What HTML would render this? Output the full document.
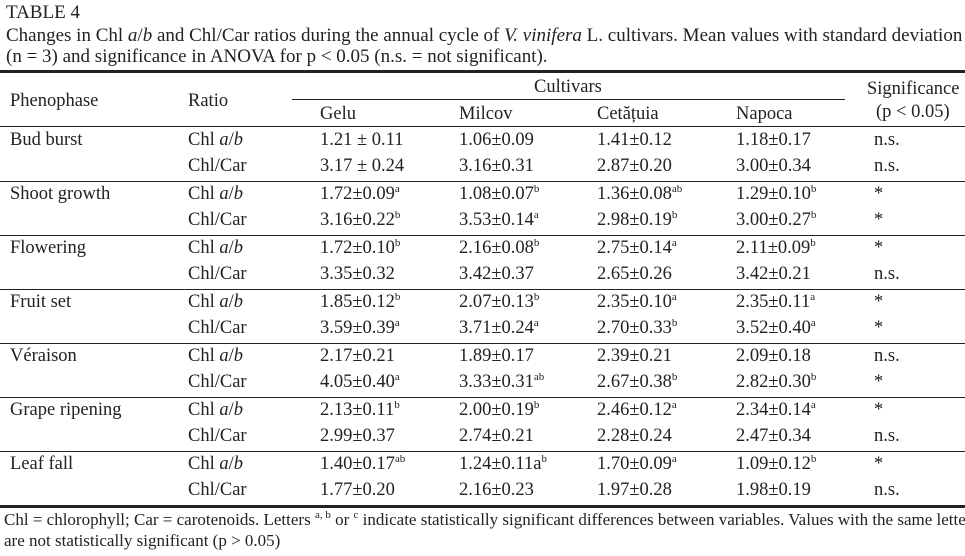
<!DOCTYPE html>
<html><head><meta charset="utf-8">
<style>
body{margin:0;width:965px;height:556px;background:#fff;overflow:hidden;position:relative;font-family:"Liberation Serif",serif;color:#222;font-size:18.5px}
.t{position:absolute;white-space:nowrap;line-height:20px}
.r{position:absolute;background:#222;left:0;width:965px}
sup{font-size:11px;line-height:0;vertical-align:7px}
.fn{font-size:17px}
.cap{font-size:19px}
</style></head><body>
<div class="t cap" style="left:6px;top:3px">TABLE 4</div>
<div class="t cap" style="left:6px;top:26px">Changes in Chl <i>a</i>/<i>b</i> and Chl/Car ratios during the annual cycle of <i>V. vinifera</i> L. cultivars. Mean values with standard deviation</div>
<div class="t cap" style="left:6px;top:47px">(n = 3) and significance in ANOVA for p &lt; 0.05 (n.s. = not significant).</div>
<div class="r" style="top:70px;height:3px"></div>
<div class="t" style="left:10px;top:91px">Phenophase</div>
<div class="t" style="left:188px;top:91px">Ratio</div>
<div class="t" style="left:534px;top:77px">Cultivars</div>
<div class="r" style="left:292px;width:553px;top:99px;height:1px"></div>
<div class="t" style="left:867px;top:79px">Significance</div>
<div class="t" style="left:876px;top:102px">(p &lt; 0.05)</div>
<div class="t" style="left:320px;top:104px">Gelu</div>
<div class="t" style="left:459px;top:104px">Milcov</div>
<div class="t" style="left:597px;top:104px">Cetățuia</div>
<div class="t" style="left:736px;top:104px">Napoca</div>
<div class="r" style="top:126px;height:1px"></div>

<div>
<div class="t" style="left:10px;top:130px">Bud burst</div>
<div class="t" style="left:188px;top:130px">Chl <i>a</i>/<i>b</i></div>
<div class="t" style="left:320px;top:130px">1.21 ± 0.11</div>
<div class="t" style="left:459px;top:130px">1.06±0.09</div>
<div class="t" style="left:597px;top:130px">1.41±0.12</div>
<div class="t" style="left:736px;top:130px">1.18±0.17</div>
<div class="t" style="left:874px;top:130px">n.s.</div>
<div class="t" style="left:188px;top:156px">Chl/Car</div>
<div class="t" style="left:320px;top:156px">3.17 ± 0.24</div>
<div class="t" style="left:459px;top:156px">3.16±0.31</div>
<div class="t" style="left:597px;top:156px">2.87±0.20</div>
<div class="t" style="left:736px;top:156px">3.00±0.34</div>
<div class="t" style="left:874px;top:156px">n.s.</div>
</div>
<div class="r" style="top:181px;height:1px"></div>

<div>
<div class="t" style="left:10px;top:184px">Shoot growth</div>
<div class="t" style="left:188px;top:184px">Chl <i>a</i>/<i>b</i></div>
<div class="t" style="left:320px;top:184px">1.72±0.09<sup>a</sup></div>
<div class="t" style="left:459px;top:184px">1.08±0.07<sup>b</sup></div>
<div class="t" style="left:597px;top:184px">1.36±0.08<sup>ab</sup></div>
<div class="t" style="left:736px;top:184px">1.29±0.10<sup>b</sup></div>
<div class="t" style="left:874px;top:184px">*</div>
<div class="t" style="left:188px;top:210px">Chl/Car</div>
<div class="t" style="left:320px;top:210px">3.16±0.22<sup>b</sup></div>
<div class="t" style="left:459px;top:210px">3.53±0.14<sup>a</sup></div>
<div class="t" style="left:597px;top:210px">2.98±0.19<sup>b</sup></div>
<div class="t" style="left:736px;top:210px">3.00±0.27<sup>b</sup></div>
<div class="t" style="left:874px;top:210px">*</div>
</div>
<div class="r" style="top:235px;height:1px"></div>

<div>
<div class="t" style="left:10px;top:238px">Flowering</div>
<div class="t" style="left:188px;top:238px">Chl <i>a</i>/<i>b</i></div>
<div class="t" style="left:320px;top:238px">1.72±0.10<sup>b</sup></div>
<div class="t" style="left:459px;top:238px">2.16±0.08<sup>b</sup></div>
<div class="t" style="left:597px;top:238px">2.75±0.14<sup>a</sup></div>
<div class="t" style="left:736px;top:238px">2.11±0.09<sup>b</sup></div>
<div class="t" style="left:874px;top:238px">*</div>
<div class="t" style="left:188px;top:264px">Chl/Car</div>
<div class="t" style="left:320px;top:264px">3.35±0.32</div>
<div class="t" style="left:459px;top:264px">3.42±0.37</div>
<div class="t" style="left:597px;top:264px">2.65±0.26</div>
<div class="t" style="left:736px;top:264px">3.42±0.21</div>
<div class="t" style="left:874px;top:264px">n.s.</div>
</div>
<div class="r" style="top:289px;height:1px"></div>

<div>
<div class="t" style="left:10px;top:292px">Fruit set</div>
<div class="t" style="left:188px;top:292px">Chl <i>a</i>/<i>b</i></div>
<div class="t" style="left:320px;top:292px">1.85±0.12<sup>b</sup></div>
<div class="t" style="left:459px;top:292px">2.07±0.13<sup>b</sup></div>
<div class="t" style="left:597px;top:292px">2.35±0.10<sup>a</sup></div>
<div class="t" style="left:736px;top:292px">2.35±0.11<sup>a</sup></div>
<div class="t" style="left:874px;top:292px">*</div>
<div class="t" style="left:188px;top:318px">Chl/Car</div>
<div class="t" style="left:320px;top:318px">3.59±0.39<sup>a</sup></div>
<div class="t" style="left:459px;top:318px">3.71±0.24<sup>a</sup></div>
<div class="t" style="left:597px;top:318px">2.70±0.33<sup>b</sup></div>
<div class="t" style="left:736px;top:318px">3.52±0.40<sup>a</sup></div>
<div class="t" style="left:874px;top:318px">*</div>
</div>
<div class="r" style="top:343px;height:1px"></div>

<div>
<div class="t" style="left:10px;top:346px">Véraison</div>
<div class="t" style="left:188px;top:346px">Chl <i>a</i>/<i>b</i></div>
<div class="t" style="left:320px;top:346px">2.17±0.21</div>
<div class="t" style="left:459px;top:346px">1.89±0.17</div>
<div class="t" style="left:597px;top:346px">2.39±0.21</div>
<div class="t" style="left:736px;top:346px">2.09±0.18</div>
<div class="t" style="left:874px;top:346px">n.s.</div>
<div class="t" style="left:188px;top:372px">Chl/Car</div>
<div class="t" style="left:320px;top:372px">4.05±0.40<sup>a</sup></div>
<div class="t" style="left:459px;top:372px">3.33±0.31<sup>ab</sup></div>
<div class="t" style="left:597px;top:372px">2.67±0.38<sup>b</sup></div>
<div class="t" style="left:736px;top:372px">2.82±0.30<sup>b</sup></div>
<div class="t" style="left:874px;top:372px">*</div>
</div>
<div class="r" style="top:397px;height:1px"></div>

<div>
<div class="t" style="left:10px;top:400px">Grape ripening</div>
<div class="t" style="left:188px;top:400px">Chl <i>a</i>/<i>b</i></div>
<div class="t" style="left:320px;top:400px">2.13±0.11<sup>b</sup></div>
<div class="t" style="left:459px;top:400px">2.00±0.19<sup>b</sup></div>
<div class="t" style="left:597px;top:400px">2.46±0.12<sup>a</sup></div>
<div class="t" style="left:736px;top:400px">2.34±0.14<sup>a</sup></div>
<div class="t" style="left:874px;top:400px">*</div>
<div class="t" style="left:188px;top:426px">Chl/Car</div>
<div class="t" style="left:320px;top:426px">2.99±0.37</div>
<div class="t" style="left:459px;top:426px">2.74±0.21</div>
<div class="t" style="left:597px;top:426px">2.28±0.24</div>
<div class="t" style="left:736px;top:426px">2.47±0.34</div>
<div class="t" style="left:874px;top:426px">n.s.</div>
</div>
<div class="r" style="top:451px;height:1px"></div>

<div>
<div class="t" style="left:10px;top:454px">Leaf fall</div>
<div class="t" style="left:188px;top:454px">Chl <i>a</i>/<i>b</i></div>
<div class="t" style="left:320px;top:454px">1.40±0.17<sup>ab</sup></div>
<div class="t" style="left:459px;top:454px">1.24±0.11a<sup>b</sup></div>
<div class="t" style="left:597px;top:454px">1.70±0.09<sup>a</sup></div>
<div class="t" style="left:736px;top:454px">1.09±0.12<sup>b</sup></div>
<div class="t" style="left:874px;top:454px">*</div>
<div class="t" style="left:188px;top:480px">Chl/Car</div>
<div class="t" style="left:320px;top:480px">1.77±0.20</div>
<div class="t" style="left:459px;top:480px">2.16±0.23</div>
<div class="t" style="left:597px;top:480px">1.97±0.28</div>
<div class="t" style="left:736px;top:480px">1.98±0.19</div>
<div class="t" style="left:874px;top:480px">n.s.</div>
</div>
<div class="r" style="top:505px;height:3px"></div>

<div class="t fn" style="left:4px;top:510px">Chl = chlorophyll; Car = carotenoids. Letters <sup>a, b</sup> or <sup>c</sup> indicate statistically significant differences between variables. Values with the same letter</div>
<div class="t fn" style="left:4px;top:531px">are not statistically significant (p &gt; 0.05)</div>
</body></html>
